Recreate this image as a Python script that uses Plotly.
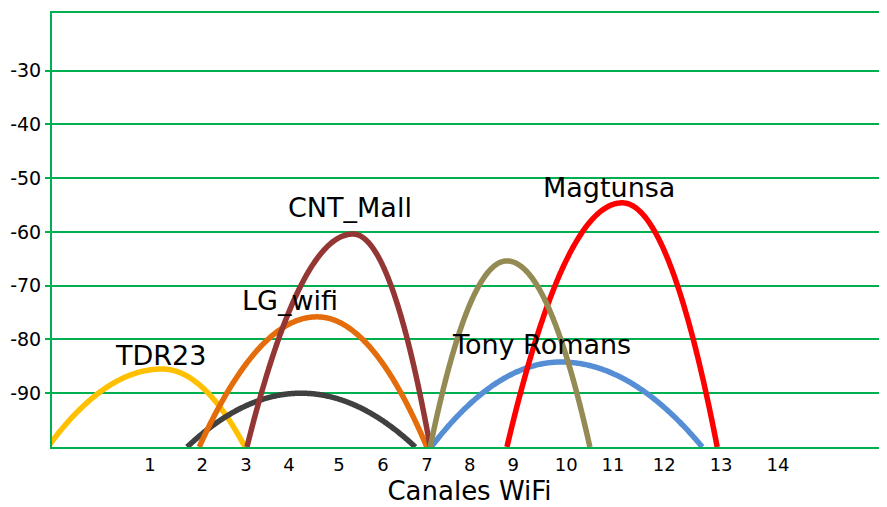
import numpy as np
import plotly.graph_objects as go

# --- data (x in channel units, y in dBm) ---
names = ["TDR23", "Gray", "LG_wifi", "CNT_Mall", "Tony Romans", "Magtunsa", "Khaki"]
start_x = [-1.12, 1.77, 2.02, 3.01, 6.83, 8.40, 6.81]
peak_x = [1.25, 4.13, 4.46, 5.21, 9.52, 10.79, 8.40]
end_x = [2.97, 6.50, 6.74, 6.81, 12.45, 12.76, 10.12]
peak_y = [-85.5, -90.0, -75.8, -60.4, -84.2, -54.6, -65.4]
base_y = -100
colors = ["#FFC000", "#404040", "#E46C0A", "#943634", "#558ED5", "#FF0000", "#948A54"]

tick_pos = [1.0, 2.08, 2.99, 3.88, 4.92, 5.83, 6.74, 7.63, 8.53, 9.63, 10.60, 11.66, 12.84, 14.02]
tick_text = ["1", "2", "3", "4", "5", "6", "7", "8", "9", "10", "11", "12", "13", "14"]
y_ticks = [-90, -80, -70, -60, -50, -40, -30]
y_tick_text = ["-90", "-80", "-70", "-60", "-50", "-40", "-30"]

label_text = ["TDR23", "LG_wifi", "CNT_Mall", "Magtunsa", "Tony Romans"]
label_x = [1.21, 3.90, 5.15, 10.52, 9.11]
label_y = [-82.9, -72.7, -55.5, -51.8, -81.0]

GREEN = "#00B050"
FONT = "DejaVu Sans"

fig = go.Figure()
for sx, px, ex, py, c in zip(start_x, peak_x, end_x, peak_y, colors):
    # each side drawn as a half parabola with its vertex at the peak
    tl = np.linspace(0, 1, 120)
    xl = sx + (px - sx) * tl
    yl = py + (base_y - py) * (1 - tl) ** 2
    tr = np.linspace(0, 1, 120)[1:]
    xr = px + (ex - px) * tr
    yr = py + (base_y - py) * tr ** 2
    fig.add_trace(go.Scatter(
        x=np.concatenate([xl, xr]), y=np.concatenate([yl, yr]),
        mode="lines", line=dict(color=c, width=5.5, simplify=False),
        hoverinfo="skip", showlegend=False,
    ))

for t, x, y in zip(label_text, label_x, label_y):
    fig.add_annotation(x=x, y=y, text=t, showarrow=False,
                       font=dict(family=FONT, size=27, color="#000000"))

# page body has an 8px margin, so the figure is sized/offset to compensate
fig.update_layout(
    width=879, height=499,
    margin=dict(l=44, r=0, t=5, b=60, autoexpand=False),
    paper_bgcolor="white", plot_bgcolor="white",
    font=dict(family=FONT, color="#000000"),
    showlegend=False,
)
fig.update_xaxes(
    range=[-1.032, 16.28], showgrid=False, zeroline=False, automargin=False,
    showline=True, linecolor=GREEN, linewidth=2, mirror=True,
    tickmode="array", tickvals=tick_pos, ticktext=tick_text,
    ticks="", tickfont=dict(family=FONT, size=18, color="#000000"),
    title=dict(text="Canales WiFi", font=dict(family=FONT, size=26, color="#000000"), standoff=8),
)
fig.update_yaxes(
    range=[-100, -19.3], showgrid=True, gridcolor=GREEN, gridwidth=2,
    zeroline=False, showline=True, linecolor=GREEN, linewidth=2, automargin=False,
    tickmode="array", tickvals=y_ticks, ticktext=y_tick_text,
    ticks="outside", ticklen=5, tickcolor=GREEN, tickwidth=2,
    tickfont=dict(family=FONT, size=19, color="#000000"),
)

fig.write_html("out.html")
